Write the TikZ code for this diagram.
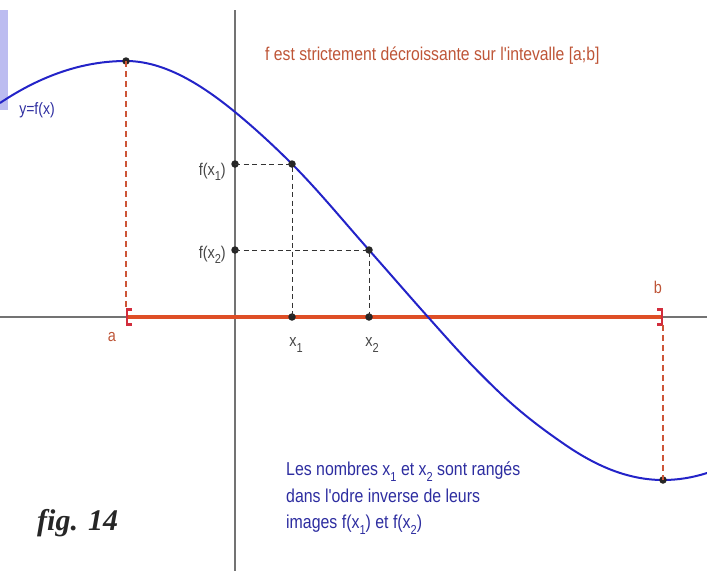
\documentclass[tikz,border=0pt]{standalone}
\usepackage{fontspec}
\setmainfont{Liberation Sans}
\newfontfamily\narrow[FakeStretch=0.85]{Liberation Sans}
\newfontfamily\figfont{Liberation Serif}
\definecolor{curveblue}{RGB}{35,35,200}
\definecolor{axisgray}{RGB}{115,115,115}
\definecolor{segred}{RGB}{222,78,38}
\definecolor{brackred}{RGB}{210,45,60}
\definecolor{dashred}{RGB}{205,85,55}
\definecolor{titlered}{RGB}{190,85,55}
\definecolor{textblue}{RGB}{45,45,160}
\definecolor{labgray}{RGB}{70,70,70}
\definecolor{lav}{RGB}{188,188,240}
\tikzset{
  axisline/.style={draw=axisgray,line width=2pt},
  curveline/.style={draw=curveblue,line width=2pt},
  seg/.style={draw=segred,line width=3.5pt},
  brack/.style={draw=brackred,line width=2.5pt},
  reddash/.style={draw=dashred,line width=1.2pt,dash pattern=on 6pt off 4pt},
  blackdash/.style={draw=black!80,line width=1pt,dash pattern=on 5pt off 3.5pt},
  dot/.style={circle,fill=black!85,inner sep=0pt,minimum size=7.5pt},
  glab/.style={text=labgray,font=\narrow\fontsize{17}{19}\selectfont,inner sep=0pt},
  rlab/.style={text=titlered,font=\narrow\fontsize{17}{19}\selectfont,inner sep=0pt},
}
\newcommand\sbs[1]{\raisebox{-0.6ex}{\fontsize{13}{13}\selectfont #1}}
\begin{document}
\begin{tikzpicture}[x=1pt,y=-1pt]
\useasboundingbox (0,0) rectangle (707,571);
\fill[lav] (0,10) rectangle (8,110);
% axes
\coordinate (yt) at (235,10);
\coordinate (yb) at (235,571);
\coordinate (xl) at (0,317);
\coordinate (xr) at (707,317);
\draw[axisline] (yt) -- (yb);
\draw[axisline] (xl) -- (xr);
% interval
\coordinate (aa) at (127,317);
\coordinate (bb) at (662,317);
\draw[seg] (aa) -- (bb);
\draw[brack] (132,309.5) -- (127,309.5) -- (127,324.5) -- (132,324.5);
\draw[brack] (657,309.5) -- (662,309.5) -- (662,324.5) -- (657,324.5);
% curve
\draw[curveline] (0,103)
  .. controls (42,74.86) and (84,61) .. (126,61)
  .. controls (162.33,61) and (198.67,82.2) .. (235,112)
  .. controls (254,127.58) and (273,145) .. (292,164)
  .. controls (317.67,189.67) and (343.33,221) .. (369,250)
  .. controls (388.67,272.2) and (408.33,294.97) .. (428,317)
  .. controls (441,331.56) and (454,346.35) .. (467,360)
  .. controls (478,371.55) and (489,382.55) .. (500,393)
  .. controls (522.33,414.2) and (544.67,430.8) .. (567,446)
  .. controls (578,453.48) and (589,459.83) .. (600,465)
  .. controls (621,474.87) and (642,480) .. (663,480)
  .. controls (677.67,480) and (692.33,477.7) .. (707,473);
% points
\node[dot] (A) at (126,61) {};
\node[dot] (B) at (663,480) {};
\node[dot] (P1) at (292,164) {};
\node[dot] (P2) at (369,250) {};
\node[dot] (Y1) at (235,164) {};
\node[dot] (Y2) at (235,250) {};
\node[dot] (X1) at (292,317) {};
\node[dot] (X2) at (369,317) {};
\coordinate (Ab) at (126,309);
\coordinate (Bt) at (663,325);
\draw[reddash] (A.center) -- (Ab);
\draw[reddash] (Bt) -- (B.center);
\draw[blackdash] (Y1.center) -- (P1.center) -- (X1.center);
\draw[blackdash] (Y2.center) -- (P2.center) -- (X2.center);
% labels
\node[text=textblue,font=\narrow\fontsize{16.5}{18}\selectfont,inner sep=0pt] (yf) at (37,110) {y=f(x)};
\node[glab,anchor=east] (lf1) at (226,172) {f(x\sbs{1})};
\node[glab,anchor=east] (lf2) at (226,255) {f(x\sbs{2})};
\node[glab] (lx1) at (296,345) {x\sbs{1}};
\node[glab] (lx2) at (372,345) {x\sbs{2}};
\node[rlab] (la) at (112,337) {a};
\node[rlab] (lb) at (658,287) {b};
\node[text=titlered,font=\narrow\fontsize{18.5}{20}\selectfont,inner sep=0pt,anchor=west] (title) at (265,56) {f est strictement décroissante sur l'intevalle [a;b]};
\node[text=textblue,font=\narrow\fontsize{18.7}{26.5}\selectfont,inner sep=0pt,anchor=north west,align=left] (note) at (286,462) {Les nombres x\sbs{1} et x\sbs{2} sont rangés\\dans l'odre inverse de leurs\\images f(x\sbs{1}) et f(x\sbs{2})};
\node[font=\figfont\fontsize{30}{30}\selectfont\bfseries\itshape,text=black!85,inner sep=0pt,anchor=base west] (fig) at (37,530) {fig. 14};
\end{tikzpicture}
\end{document}
